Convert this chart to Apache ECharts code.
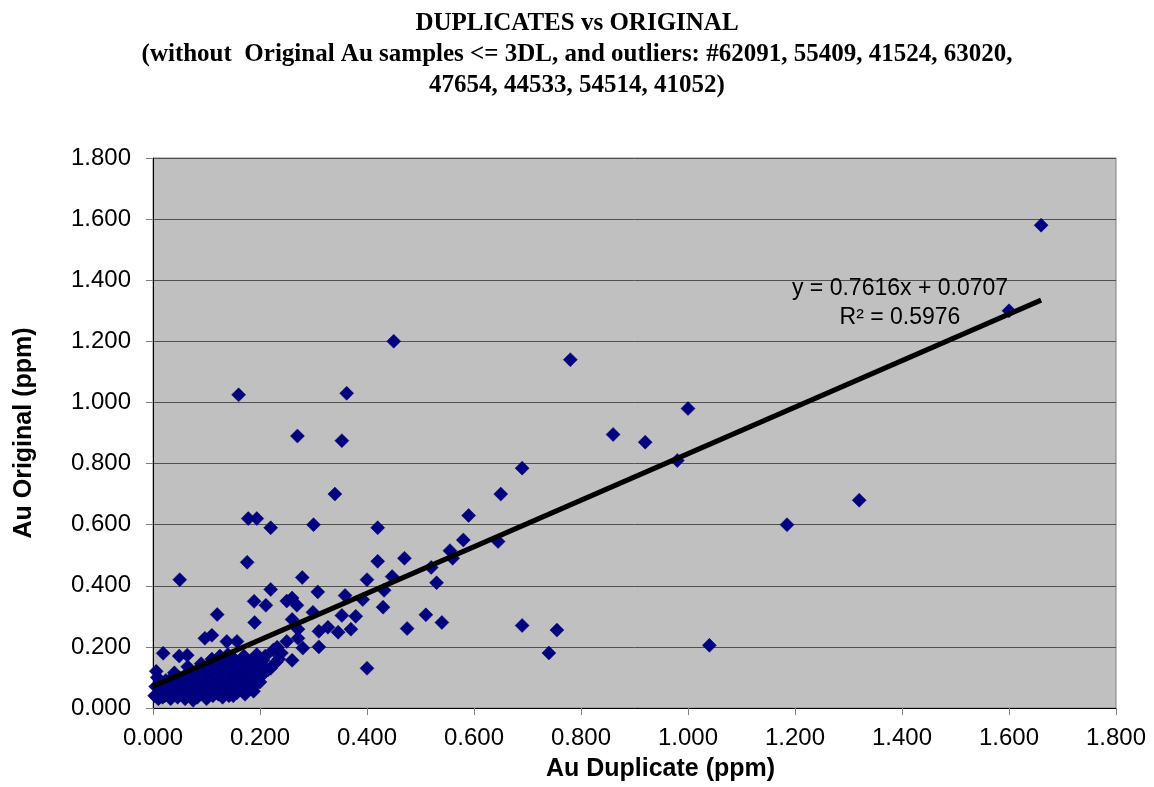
<!DOCTYPE html>
<html>
<head>
<meta charset="utf-8">
<script src="https://cdn.jsdelivr.net/npm/echarts@6/dist/echarts.min.js"></script>
<style>
  html, body { margin: 0; padding: 0; background: #fff; }
  #chart { width: 1154px; height: 787px; }
</style>
</head>
<body>
<div id="chart"></div>
<script>
// Au Duplicate (x) / Au Original (y), ppm - paired by index
const dupAu = [
  1.66, 1.60, 1.32, 1.185, 1.04, 1.00, 0.98, 0.92, 0.86, 0.78,
  0.69, 0.69, 0.755, 0.74, 0.65, 0.645, 0.59, 0.58, 0.555, 0.56,
  0.54, 0.51, 0.53, 0.52, 0.45, 0.362, 0.353, 0.34, 0.42, 0.47,
  0.42, 0.447, 0.432, 0.475, 0.40, 0.40, 0.392, 0.43, 0.379, 0.37,
  0.359, 0.353, 0.346, 0.327, 0.308, 0.31, 0.31, 0.30, 0.27, 0.16,
  0.178, 0.194, 0.22, 0.176, 0.05, 0.279, 0.22, 0.189, 0.211, 0.25,
  0.26, 0.269, 0.299, 0.19, 0.26, 0.271, 0.157, 0.25, 0.271, 0.232,
  0.28, 0.206, 0.194, 0.204, 0.26, 0.163, 0.12, 0.097, 0.11, 0.138,
  0.019, 0.049, 0.064, 0.006, 0.166, 0.144,
  0.003, 0.005, 0.008, 0.012, 0.015, 0.018, 0.02, 0.024, 0.027, 0.03,
  0.033, 0.036, 0.04, 0.043, 0.046, 0.05, 0.048, 0.053, 0.056, 0.06,
  0.062, 0.065, 0.068, 0.071, 0.074, 0.077, 0.08, 0.083, 0.086, 0.089,
  0.092, 0.095, 0.098, 0.10, 0.103, 0.106, 0.109, 0.11, 0.113, 0.116,
  0.119, 0.122, 0.125, 0.128, 0.131, 0.134, 0.137, 0.14, 0.143, 0.146,
  0.149, 0.152, 0.155, 0.158, 0.161, 0.164, 0.168, 0.17, 0.173, 0.176,
  0.18, 0.183, 0.186, 0.19, 0.194, 0.198, 0.20, 0.21, 0.215, 0.225,
  0.23, 0.24, 0.125, 0.14, 0.11, 0.09, 0.13, 0.10, 0.075, 0.15,
  0.175, 0.20,
  0.01, 0.022, 0.035, 0.045, 0.058, 0.07, 0.085, 0.097, 0.112, 0.127,
  0.142, 0.157, 0.172, 0.188, 0.03, 0.055, 0.08, 0.105, 0.135, 0.16,
  0.185, 0.205, 0.22, 0.235, 0.012, 0.04, 0.065, 0.09
];
const origAu = [
  1.58, 1.30, 0.68, 0.60, 0.205, 0.98, 0.81, 0.87, 0.895, 1.14,
  0.785, 0.27, 0.255, 0.18, 0.70, 0.545, 0.63, 0.55, 0.515, 0.49,
  0.28, 0.305, 0.41, 0.46, 1.20, 1.03, 0.875, 0.70, 0.59, 0.49,
  0.48, 0.43, 0.385, 0.26, 0.13, 0.42, 0.355, 0.33, 0.30, 0.258,
  0.368, 0.303, 0.248, 0.264, 0.38, 0.251, 0.20, 0.60, 0.89, 1.025,
  0.62, 0.62, 0.59, 0.477, 0.42, 0.427, 0.388, 0.349, 0.336, 0.35,
  0.36, 0.336, 0.313, 0.28, 0.29, 0.258, 0.218, 0.218, 0.228, 0.199,
  0.196, 0.156, 0.137, 0.124, 0.156, 0.14, 0.306, 0.228, 0.238, 0.218,
  0.179, 0.17, 0.173, 0.12, 0.072, 0.055,
  0.04, 0.07, 0.10, 0.05, 0.085, 0.035, 0.06, 0.09, 0.045, 0.07,
  0.03, 0.10, 0.055, 0.08, 0.035, 0.065, 0.10, 0.045, 0.085, 0.03,
  0.11, 0.06, 0.075, 0.04, 0.095, 0.055, 0.115, 0.035, 0.07, 0.09,
  0.05, 0.125, 0.065, 0.10, 0.04, 0.08, 0.13, 0.055, 0.105, 0.07,
  0.14, 0.045, 0.09, 0.12, 0.06, 0.15, 0.08, 0.11, 0.135, 0.06,
  0.095, 0.16, 0.075, 0.12, 0.10, 0.145, 0.085, 0.17, 0.11, 0.13,
  0.095, 0.155, 0.075, 0.12, 0.175, 0.10, 0.145, 0.17, 0.125, 0.19,
  0.15, 0.18, 0.17, 0.175, 0.16, 0.145, 0.035, 0.03, 0.025, 0.04,
  0.06, 0.085,
  0.03, 0.04, 0.045, 0.04, 0.05, 0.045, 0.05, 0.045, 0.04, 0.045,
  0.04, 0.05, 0.045, 0.055, 0.08, 0.075, 0.085, 0.085, 0.1, 0.065,
  0.065, 0.11, 0.13, 0.16, 0.065, 0.115, 0.135, 0.11
];

// linear trendline y = 0.7616x + 0.0707, drawn over the duplicate range
const trendX = [0, 1.66];
const trendY = [0.0707, 1.335];
const trendText = ["y = 0.7616x + 0.0707", "R\u00b2 = 0.5976"];

const xTicks = [0, 0.2, 0.4, 0.6, 0.8, 1.0, 1.2, 1.4, 1.6, 1.8];

const chart = echarts.init(document.getElementById("chart"));
chart.setOption({
  animation: false,
  title: {
    text: "DUPLICATES vs ORIGINAL\n(without  Original Au samples <= 3DL, and outliers: #62091, 55409, 41524, 63020,\n47654, 44533, 54514, 41052)",
    left: "center",
    top: 3,
    textStyle: {
      fontFamily: "Liberation Serif",
      fontWeight: "bold",
      fontSize: 25,
      lineHeight: 31,
      color: "#000",
    },
  },
  grid: {
    left: 153,
    right: 38,
    top: 158,
    bottom: 77,
    show: true,
    backgroundColor: "#c0c0c0",
    borderColor: "#808080",
    borderWidth: 1,
  },
  xAxis: {
    type: "value",
    min: 0,
    max: xTicks[xTicks.length - 1],
    interval: 0.2,
    name: "Au Duplicate (ppm)",
    nameLocation: "middle",
    nameGap: 49,
    nameTextStyle: {
      fontFamily: "Liberation Sans",
      fontWeight: "bold",
      fontSize: 25,
      color: "#000",
      padding: [0, 0, 0, 52],
    },
    axisLine: { show: true, lineStyle: { color: "#000", width: 1 } },
    axisTick: { show: true, inside: false, length: 7, lineStyle: { color: "#808080" } },
    axisLabel: {
      margin: 18,
      fontFamily: "Liberation Sans",
      fontSize: 24,
      color: "#000",
      formatter: (v) => v.toFixed(3),
    },
    splitLine: { show: false },
  },
  yAxis: {
    type: "value",
    min: 0,
    max: 1.8,
    interval: 0.2,
    name: "Au Original (ppm)",
    nameLocation: "middle",
    nameGap: 116,
    nameTextStyle: {
      fontFamily: "Liberation Sans",
      fontWeight: "bold",
      fontSize: 25,
      color: "#000",
    },
    axisLine: { show: true, lineStyle: { color: "#000", width: 1 } },
    axisTick: { show: true, inside: false, length: 7, lineStyle: { color: "#808080" } },
    axisLabel: {
      margin: 22,
      fontFamily: "Liberation Sans",
      fontSize: 24,
      color: "#000",
      formatter: (v) => v.toFixed(3),
    },
    splitLine: { show: true, lineStyle: { color: "#505050", width: 1 } },
  },
  series: [
    {
      name: "Au",
      type: "scatter",
      symbol: "diamond",
      symbolSize: 14,
      itemStyle: { color: "#000080", borderColor: "#00006a", borderWidth: 0.5, opacity: 1 },
      data: dupAu.map((x, i) => [x, origAu[i]]),
      z: 2,
    },
    {
      name: "Trend",
      type: "line",
      data: trendX.map((x, i) => [x, trendY[i]]),
      symbol: "none",
      lineStyle: { color: "#000", width: 5 },
      z: 3,
    },
  ],
  graphic: [
    {
      type: "text",
      x: 900,
      y: 274,
      style: {
        text: trendText.join("\n"),
        align: "center",
        verticalAlign: "top",
        fontFamily: "Liberation Sans",
        fontSize: 23,
        lineHeight: 29,
        fill: "#000",
      },
      z: 10,
    },
  ],
});
</script>
</body>
</html>
